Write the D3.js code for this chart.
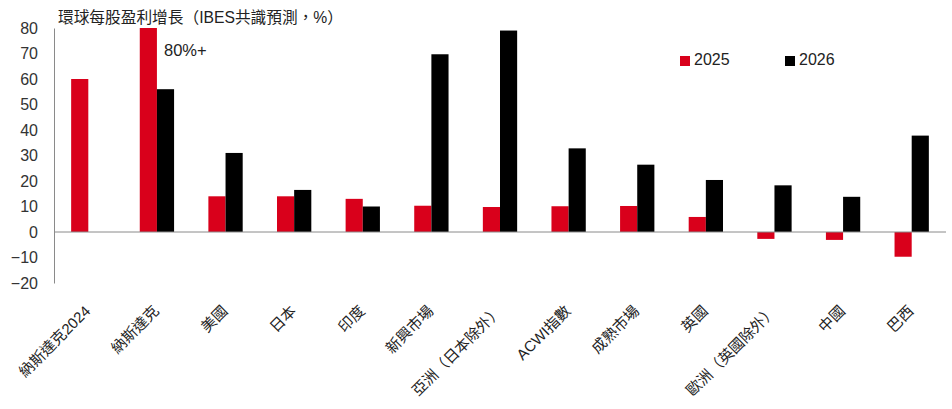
<!DOCTYPE html>
<html><head><meta charset="utf-8">
<script src="https://cdn.jsdelivr.net/npm/d3@7"></script>
<style>
body{margin:0;background:#fff;}
text{font-family:"Liberation Sans","Noto Sans CJK TC",sans-serif;}
</style></head>
<body><svg id="c" width="952" height="409"></svg>
<script>
const categories = ["納斯達克2024","納斯達克","美國","日本","印度","新興市場","亞洲（日本除外）","ACWI指數","成熟市場","英國","歐洲（英國除外）","中國","巴西"];
const series = ["2025","2026"];
const values2025 = [60, 80, 14, 14, 13, 10.3, 9.8, 10.1, 10.2, 5.9, -2.7, -3.1, -9.7];
const values2026 = [null, 56, 31, 16.5, 10, 69.7, 79, 32.8, 26.4, 20.4, 18.3, 13.8, 37.8];
const yTicks = [-20,-10,0,10,20,30,40,50,60,70,80];
const title = "環球每股盈利增長（IBES共識預測，%）";
const note = "80%+";
const colors = {"2025":"#d9001b","2026":"#000000"};

const svg = d3.select("#c");
const L = 54, R = 946, T = 28, B = 283;
const x = d3.scaleBand().domain(categories).range([L, R]).padding(0);
const x1 = d3.scaleBand().domain(series).range([x.bandwidth()*0.25, x.bandwidth()*0.75]).padding(0);
const y = d3.scaleLinear().domain([-20, 80]).range([B, T]);

const data = categories.map((c,i)=>({cat:c, vals:[{s:"2025",v:values2025[i]},{s:"2026",v:values2026[i]}]}));

const g = svg.selectAll("g.grp").data(data).join("g").attr("transform", d=>`translate(${x(d.cat)},0)`);
g.selectAll("rect").data(d=>d.vals.filter(e=>e.v!==null)).join("rect")
  .attr("x", d=>x1(d.s)).attr("width", x1.bandwidth())
  .attr("y", d=>y(Math.max(0,d.v))).attr("height", d=>Math.abs(y(d.v)-y(0)))
  .attr("fill", d=>colors[d.s]);

// y axis
const ya = svg.append("g").attr("transform",`translate(${L},0)`)
  .call(d3.axisLeft(y).tickValues(yTicks).tickSize(0).tickPadding(16).tickFormat(d3.format("d")));
ya.select(".domain").attr("stroke","#8a8a8a");
ya.selectAll("text").attr("font-size",16).attr("fill","#333").style("font-family","Liberation Sans, sans-serif");

// zero line
svg.append("line").attr("x1",L).attr("x2",R).attr("y1",y(0)).attr("y2",y(0)).attr("stroke","#8a8a8a").attr("stroke-width",1);

// x labels
svg.append("g").selectAll("text").data(categories).join("text")
  .attr("transform", d=>`translate(${x(d)+x.bandwidth()/2+3},312) rotate(-45)`)
  .attr("text-anchor","end").attr("font-size",15).attr("fill","#222").text(d=>d);

// title
svg.append("text").attr("x",58).attr("y",19).attr("dominant-baseline","middle").attr("font-size",15.7).attr("fill","#222").text(title);

// note
svg.append("text").attr("x",164).attr("y",52).attr("dominant-baseline","middle").attr("font-size",16.5).attr("fill","#222").text(note);

// legend
const lg = svg.append("g").selectAll("g").data(series).join("g").attr("transform",(d,i)=>`translate(${680+i*105},56)`);
lg.append("rect").attr("width",10).attr("height",10).attr("fill",d=>colors[d]);
lg.append("text").attr("x",14).attr("y",5).attr("dominant-baseline","middle").attr("font-size",16).attr("fill","#222").text(d=>d);
</script></body></html>
